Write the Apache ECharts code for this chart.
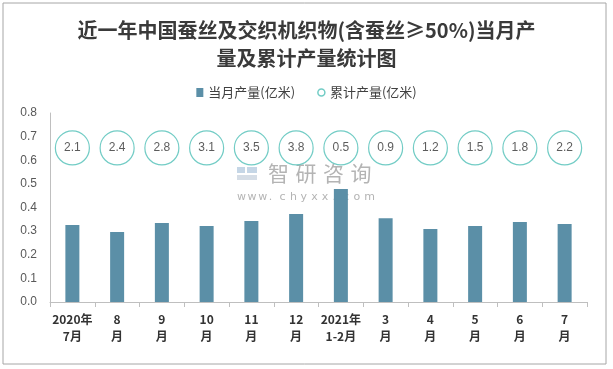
<!DOCTYPE html>
<html>
<head>
<meta charset="utf-8">
<script src="https://cdn.jsdelivr.net/npm/echarts@6/dist/echarts.min.js"></script>
<style>
html,body{margin:0;padding:0;background:#fff;}
#chart{width:613px;height:369px;}
</style>
</head>
<body>
<div id="chart"></div>
<script>
const categories = ['2020年\n7月','8\n月','9\n月','10\n月','11\n月','12\n月','2021年\n1-2月','3\n月','4\n月','5\n月','6\n月','7\n月'];
const monthly = [0.326,0.296,0.334,0.322,0.343,0.372,0.478,0.355,0.309,0.322,0.339,0.330];
const cumulative = [2.1,2.4,2.8,3.1,3.5,3.8,0.5,0.9,1.2,1.5,1.8,2.2];
const yTicks = [0,0.1,0.2,0.3,0.4,0.5,0.6,0.7,0.8];

const chart = echarts.init(document.getElementById('chart'), null, {renderer:'canvas'});
const bubbleRow = 0.652;

const wmGraphics = [];
'智研咨询'.split('').forEach((c,i)=>{
  wmGraphics.push({type:'text',left:268+i*27.5,top:163,style:{text:c,font:'21px "Noto Sans CJK SC"',fill:'#b4b4b4'},z:0,silent:true});
});
'www.chyxx.com'.split('').forEach((c,i)=>{
  wmGraphics.push({type:'text',left:237+i*10.6,top:192,style:{text:c,font:'11px "DejaVu Sans"',fill:'#b4b4b4'},z:0,silent:true});
});

const option = {
  animation:false,
  backgroundColor:'#fff',
  title:{
    text:'近一年中国蚕丝及交织机织物(含蚕丝≥50%)当月产\n量及累计产量统计图',
    left:'center', top:11,
    textStyle:{fontFamily:'Noto Sans CJK SC',fontSize:20,fontWeight:'bold',color:'#3a3a3a',lineHeight:28}
  },
  legend:{
    top:81, left:'center', itemGap:22, itemWidth:7, itemHeight:9,
    textStyle:{fontFamily:'Noto Sans CJK SC',fontSize:13,color:'#404040'},
    data:[
      {name:'当月产量(亿米)', icon:'rect'},
      {name:'累计产量(亿米)', icon:'circle', itemStyle:{color:'#fff',borderColor:'#4fbfb7',borderWidth:1.5}}
    ]
  },
  grid:{left:50, right:26, top:113, bottom:67},
  xAxis:{
    type:'category', data:categories, boundaryGap:true,
    axisLine:{lineStyle:{color:'#bfbfbf'}},
    axisTick:{show:true,length:5,lineStyle:{color:'#bfbfbf'}},
    axisLabel:{interval:0,fontFamily:'Noto Sans CJK SC',fontSize:12,fontWeight:'bold',color:'#333',lineHeight:17,margin:9}
  },
  yAxis:{
    type:'value', min:yTicks[0], max:yTicks[yTicks.length-1], interval:0.1,
    axisLine:{show:true,lineStyle:{color:'#bfbfbf'}},
    axisTick:{show:false},
    splitLine:{show:false},
    axisLabel:{formatter:v=>v.toFixed(1),fontFamily:'Liberation Sans',fontSize:12,color:'#595959',margin:13}
  },
  graphic:[
    {type:'rect',shape:{x:3,y:3,width:603,height:361},style:{fill:'none',stroke:'#a6a6a6',lineWidth:1},silent:true,z:-1},
    {type:'rect',shape:{x:237,y:167,width:8,height:6},style:{fill:'#c5d6e6'},z:0},
    {type:'rect',shape:{x:247,y:167,width:10,height:6},style:{fill:'#c5d6e6'},z:0},
    {type:'rect',shape:{x:237,y:175,width:20,height:5},style:{fill:'#d5dde6'},z:0}
  ].concat(wmGraphics),
  series:[
    {name:'当月产量(亿米)', type:'bar', data:monthly, barWidth:14, itemStyle:{color:'#5b8fa7'}, z:2},
    {name:'累计产量(亿米)', type:'scatter', symbol:'circle', symbolSize:34,
     data:cumulative.map(v=>({value:bubbleRow, cum:v})),
     itemStyle:{color:'#fff',borderColor:'#4fbfb7',borderWidth:1.2},
     label:{show:true,position:'inside',formatter:p=>cumulative[p.dataIndex].toFixed(1),fontFamily:'Liberation Sans',fontSize:12,color:'#333'},
     z:3}
  ]
};
chart.setOption(option);
</script>
</body>
</html>
